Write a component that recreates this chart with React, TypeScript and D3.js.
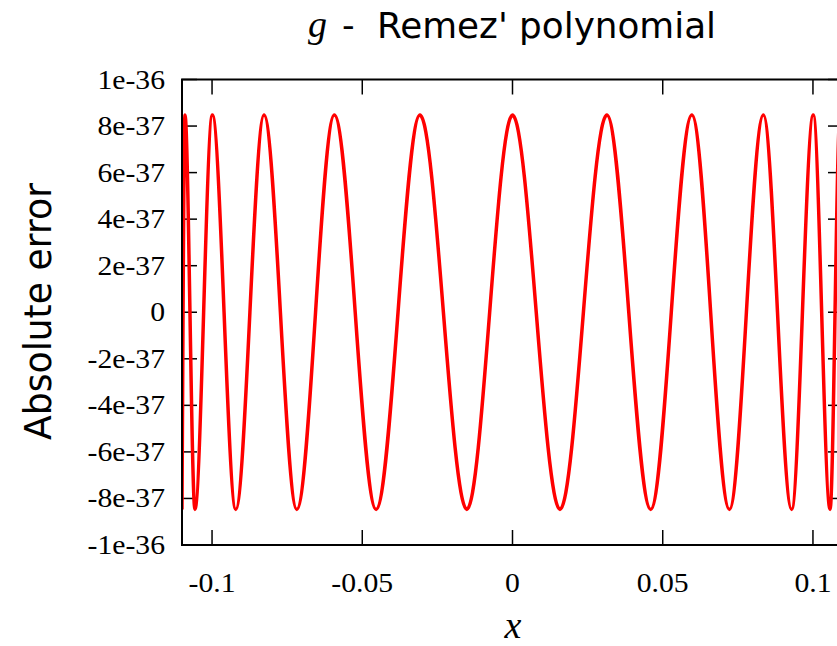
import React from "react";
import * as d3 from "d3";

// Extrema of the error curve (x, absolute error)
const extremaX = [
  -0.11, -0.109, -0.1057, -0.0999, -0.0921, -0.0827, -0.0718, -0.0593, -0.0454,
  -0.0308, -0.0152, 0.0, 0.0158, 0.0314, 0.046, 0.0597, 0.0722, 0.0835, 0.0929,
  0.1001, 0.1057, 0.109, 0.11,
];
const extremaY = [
  -8.47e-37, 8.47e-37, -8.47e-37, 8.47e-37, -8.47e-37, 8.47e-37, -8.47e-37,
  8.47e-37, -8.47e-37, 8.47e-37, -8.47e-37, 8.47e-37, -8.47e-37, 8.47e-37,
  -8.47e-37, 8.47e-37, -8.47e-37, 8.47e-37, -8.47e-37, 8.47e-37, -8.47e-37,
  8.47e-37, -8.47e-37,
];

const xTicks = [-0.1, -0.05, 0, 0.05, 0.1];
const xTickLabels = ["-0.1", "-0.05", "0", "0.05", "0.1"];
const yTicks = [1e-36, 8e-37, 6e-37, 4e-37, 2e-37, 0, -2e-37, -4e-37, -6e-37, -8e-37, -1e-36];
const yTickLabels = ["1e-36", "8e-37", "6e-37", "4e-37", "2e-37", "0", "-2e-37", "-4e-37", "-6e-37", "-8e-37", "-1e-36"];

const xDomain = [-0.11, 0.11];
const yDomain = [-1e-36, 1e-36];

const W = 837;
const H = 646;
const L = 182;
const R = 843;
const T = 79.5;
const B = 545;
const TICK = 15;
const SERIF = "'Liberation Serif', serif";
const SANS = "'DejaVu Sans', sans-serif";

export default function App() {
  const x = d3.scaleLinear().domain(xDomain).range([L, R]);
  const y = d3.scaleLinear().domain(yDomain).range([B, T]);
  const pts = extremaX.map((v, i) => [v, extremaY[i]] as [number, number]);
  const line = d3
    .line<[number, number]>()
    .x((d) => x(d[0]))
    .y((d) => y(d[1]))
    .curve(d3.curveMonotoneX);
  const path = line(pts) || "";

  return (
    <svg
      width={W}
      height={H}
      style={{ position: "absolute", left: 0, top: 0, background: "#fff" }}
    >
      <defs>
        <clipPath id="plotclip">
          <rect x={L} y={T} width={R - L} height={B - T} />
        </clipPath>
      </defs>
      <rect x={0} y={0} width={W} height={H} fill="#fff" />

      {/* ticks */}
      {xTicks.map((t, i) => (
        <g key={"xt" + i}>
          <line x1={x(t)} x2={x(t)} y1={B} y2={B - TICK} stroke="#000" strokeWidth={1.5} />
          <line x1={x(t)} x2={x(t)} y1={T} y2={T + TICK} stroke="#000" strokeWidth={1.5} />
          <text
            transform={`translate(${x(t)},592) scale(1.1,1)`}
            textAnchor="middle"
            fontFamily={SERIF}
            fontSize={27}
            fill="#000"
          >
            {xTickLabels[i]}
          </text>
        </g>
      ))}
      {yTicks.map((t, i) => (
        <g key={"yt" + i}>
          <line x1={L} x2={L + TICK} y1={y(t)} y2={y(t)} stroke="#000" strokeWidth={1.5} />
          <line x1={R} x2={R - TICK} y1={y(t)} y2={y(t)} stroke="#000" strokeWidth={1.5} />
          <text
            transform={`translate(165,${y(t) + 9}) scale(1.1,1)`}
            textAnchor="end"
            fontFamily={SERIF}
            fontSize={27}
            fill="#000"
          >
            {yTickLabels[i]}
          </text>
        </g>
      ))}

      {/* curve */}
      <path
        d={path}
        fill="none"
        stroke="#ff0000"
        strokeWidth={3.5}
        strokeLinejoin="round"
        clipPath="url(#plotclip)"
      />

      {/* frame */}
      <rect x={L} y={T} width={R - L} height={B - T} fill="none" stroke="#000" strokeWidth={2} />

      {/* title */}
      <text x={308} y={37} fontFamily={SERIF} fontStyle="italic" fontSize={38} fill="#000">
        g
      </text>
      <text x={342} y={37} fontFamily={SANS} fontSize={35} fill="#000">
        -
      </text>
      <text
        x={377}
        y={38}
        fontFamily={SANS}
        fontSize={36}
        fill="#000"
        textLength={339}
        lengthAdjust="spacingAndGlyphs"
      >
        Remez' polynomial
      </text>

      {/* axis labels */}
      <text
        transform={`translate(51,${(183 + 440) / 2}) rotate(-90)`}
        textAnchor="middle"
        fontFamily={SANS}
        fontSize={37}
        fill="#000"
        textLength={257}
        lengthAdjust="spacingAndGlyphs"
      >
        Absolute error
      </text>
      <text
        x={513}
        y={638}
        textAnchor="middle"
        fontFamily={SERIF}
        fontStyle="italic"
        fontSize={38}
        fill="#000"
      >
        x
      </text>
    </svg>
  );
}
